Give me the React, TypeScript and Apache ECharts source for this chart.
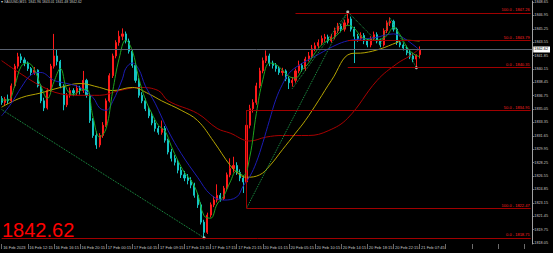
import React, { useEffect, useRef } from 'react';
import * as echarts from 'echarts';

const symbolName = 'XAUUSD,M15';
const timeLabels = ['16 Feb 2023', '16 Feb 12:15', '16 Feb 16:15', '16 Feb 20:15', '17 Feb 00:15', '17 Feb 04:15', '17 Feb 09:15', '17 Feb 13:15', '17 Feb 17:15', '17 Feb 21:15', '20 Feb 01:15', '20 Feb 05:15', '20 Feb 10:15', '20 Feb 14:15', '20 Feb 18:15', '20 Feb 22:15', '21 Feb 07:45'];
const priceTicks = [1818.05, 1819.75, 1821.45, 1823.15, 1824.85, 1826.55, 1828.25, 1829.95, 1831.65, 1833.35, 1835.05, 1836.75, 1838.45, 1840.15, 1841.85, 1843.55, 1845.25, 1846.95, 1848.65];
const lastPrice = 1842.62;
const yMin = 1817.923;
const yMax = 1848.776;
const slotCount = 163;

// [open, close, low, high]
const candles: number[][] = [
  [1836.4, 1835.9, 1835.6, 1836.7], [1835.9, 1836.3, 1835.5, 1836.6], [1836.3, 1836.1, 1835.7, 1836.9], [1836.1, 1838.0, 1835.9, 1838.3],
  [1838.0, 1840.5, 1837.8, 1840.8], [1840.5, 1841.7, 1840.2, 1842.2], [1841.7, 1841.3, 1840.9, 1842.1], [1841.3, 1840.9, 1840.5, 1841.6],
  [1840.9, 1840.2, 1839.9, 1841.1], [1840.2, 1839.7, 1839.3, 1840.4], [1839.7, 1840.0, 1839.4, 1840.4], [1840.0, 1838.0, 1837.8, 1840.1],
  [1838.0, 1836.1, 1835.8, 1838.2], [1836.1, 1835.2, 1834.8, 1836.5], [1835.2, 1837.4, 1835.0, 1837.7], [1837.4, 1840.5, 1837.2, 1840.8],
  [1840.5, 1841.8, 1840.2, 1844.6], [1841.8, 1841.1, 1840.6, 1842.6], [1841.1, 1838.0, 1837.7, 1841.3], [1838.0, 1835.6, 1834.9, 1838.2],
  [1835.6, 1836.8, 1835.3, 1837.1], [1836.8, 1837.4, 1836.5, 1837.8], [1837.4, 1837.1, 1836.7, 1837.7], [1837.1, 1837.7, 1836.8, 1838.1],
  [1837.7, 1837.4, 1836.9, 1838.0], [1837.4, 1838.7, 1837.1, 1839.9], [1838.7, 1836.8, 1836.5, 1838.9], [1836.8, 1833.6, 1833.3, 1837.0],
  [1833.6, 1831.7, 1831.4, 1833.9], [1831.7, 1830.5, 1830.0, 1832.2], [1830.5, 1831.7, 1830.2, 1832.0], [1831.7, 1833.0, 1831.4, 1833.4],
  [1833.0, 1836.1, 1832.8, 1836.4], [1836.1, 1839.3, 1835.9, 1839.6], [1839.3, 1841.8, 1839.0, 1842.1], [1841.8, 1843.5, 1841.5, 1843.8],
  [1843.5, 1844.3, 1843.1, 1845.0], [1844.3, 1844.6, 1843.8, 1845.3], [1844.6, 1843.7, 1843.4, 1844.9], [1843.7, 1842.4, 1842.1, 1844.0],
  [1842.4, 1840.6, 1840.3, 1842.6], [1840.6, 1838.7, 1838.4, 1840.9], [1838.7, 1836.8, 1836.5, 1839.0], [1836.8, 1836.1, 1835.8, 1837.2],
  [1836.1, 1835.1, 1834.8, 1836.4], [1835.1, 1834.2, 1833.9, 1835.4], [1834.2, 1833.3, 1833.0, 1834.6], [1833.3, 1832.6, 1832.2, 1833.7],
  [1832.6, 1832.1, 1831.8, 1832.9], [1832.1, 1832.6, 1831.8, 1833.6], [1832.6, 1831.1, 1830.8, 1832.9], [1831.1, 1829.6, 1829.3, 1831.3],
  [1829.6, 1828.8, 1828.4, 1830.0], [1828.8, 1828.3, 1827.9, 1829.2], [1828.3, 1827.3, 1826.9, 1828.6], [1827.3, 1826.7, 1826.3, 1827.7],
  [1826.7, 1826.3, 1825.9, 1827.2], [1826.3, 1826.0, 1825.5, 1826.8], [1826.0, 1825.4, 1825.0, 1826.4], [1825.4, 1824.1, 1823.8, 1825.7],
  [1824.1, 1822.9, 1822.5, 1824.4], [1822.9, 1820.7, 1820.4, 1823.2], [1820.7, 1819.4, 1818.71, 1821.0], [1819.4, 1821.6, 1819.2, 1821.9],
  [1821.6, 1822.9, 1821.3, 1823.2], [1822.9, 1823.5, 1822.6, 1824.0], [1823.5, 1824.1, 1823.2, 1825.5], [1824.1, 1823.7, 1823.3, 1824.4],
  [1823.7, 1825.0, 1823.5, 1825.3], [1825.0, 1826.7, 1824.8, 1827.0], [1826.7, 1827.5, 1826.4, 1828.8], [1827.5, 1827.9, 1827.0, 1829.0],
  [1827.9, 1827.0, 1826.7, 1828.3], [1827.0, 1826.3, 1825.9, 1827.4], [1826.3, 1825.8, 1824.4, 1826.6], [1825.8, 1833.0, 1825.6, 1834.9],
  [1833.0, 1835.1, 1832.6, 1835.6], [1835.1, 1835.9, 1834.6, 1836.3], [1835.9, 1838.0, 1835.6, 1838.4], [1838.0, 1839.9, 1837.7, 1840.3],
  [1839.9, 1841.2, 1839.6, 1841.6], [1841.2, 1841.8, 1840.9, 1842.5], [1841.8, 1840.9, 1840.5, 1842.1], [1840.9, 1840.6, 1840.2, 1841.2],
  [1840.6, 1840.2, 1839.8, 1840.9], [1840.2, 1839.7, 1839.4, 1840.5], [1839.7, 1839.9, 1839.3, 1840.3], [1839.9, 1838.9, 1838.6, 1840.1],
  [1838.9, 1838.4, 1837.6, 1839.2], [1838.4, 1838.7, 1837.9, 1839.1], [1838.7, 1839.9, 1838.4, 1840.2], [1839.9, 1840.6, 1839.6, 1841.2],
  [1840.6, 1840.2, 1839.8, 1840.9], [1840.2, 1841.4, 1839.9, 1841.7], [1841.4, 1841.8, 1841.1, 1842.3], [1841.8, 1842.7, 1841.5, 1843.2],
  [1842.7, 1843.1, 1842.4, 1843.5], [1843.1, 1843.5, 1842.8, 1843.9], [1843.5, 1844.0, 1843.2, 1844.4], [1844.0, 1844.2, 1843.6, 1844.6],
  [1844.2, 1843.7, 1843.4, 1844.5], [1843.7, 1844.2, 1843.5, 1844.6], [1844.2, 1845.0, 1843.9, 1845.4], [1845.0, 1845.6, 1844.7, 1846.0],
  [1845.6, 1845.2, 1844.8, 1845.9], [1845.2, 1846.0, 1844.9, 1846.4], [1846.0, 1846.5, 1845.7, 1847.39], [1846.5, 1845.2, 1844.9, 1846.8],
  [1845.2, 1844.3, 1840.9, 1845.5], [1844.3, 1844.0, 1843.6, 1844.6], [1844.0, 1844.4, 1843.7, 1844.8], [1844.4, 1843.7, 1843.3, 1844.7],
  [1843.7, 1843.2, 1842.9, 1844.0], [1843.2, 1844.0, 1842.9, 1844.3], [1844.0, 1844.5, 1843.7, 1844.9], [1844.5, 1843.7, 1843.4, 1844.8],
  [1843.7, 1843.2, 1842.9, 1844.0], [1843.2, 1845.0, 1843.0, 1845.3], [1845.0, 1846.0, 1844.7, 1846.3], [1846.0, 1846.2, 1845.6, 1846.7],
  [1846.2, 1845.2, 1844.9, 1846.4], [1845.2, 1843.5, 1843.2, 1845.4], [1843.5, 1843.2, 1842.9, 1843.8], [1843.2, 1842.8, 1842.5, 1843.5],
  [1842.8, 1842.2, 1841.9, 1843.1], [1842.2, 1841.8, 1841.4, 1842.6], [1841.8, 1841.4, 1841.0, 1842.2], [1841.4, 1841.9, 1840.31, 1842.0],
  [1841.96, 1842.62, 1841.48, 1843.01],
];

// moving averages: [bar, price]
const maFast = [[0, 1836.2], [2, 1836.2], [4, 1838.0], [6, 1840.5], [8, 1840.9], [10, 1840.1], [12, 1838.0], [14, 1836.4], [16, 1838.5], [18, 1840.2], [20, 1837.5], [22, 1836.9], [24, 1837.4], [26, 1837.6], [28, 1834.0], [30, 1831.5], [32, 1832.6], [34, 1837.3], [36, 1841.5], [38, 1843.8], [40, 1842.5], [42, 1839.0], [44, 1836.3], [46, 1834.5], [48, 1833.0], [50, 1832.3], [52, 1830.3], [54, 1828.5], [56, 1827.0], [58, 1826.0], [60, 1824.3], [62, 1821.5], [64, 1821.2], [66, 1823.0], [68, 1824.0], [70, 1825.8], [72, 1827.2], [74, 1826.6], [76, 1829.0], [78, 1834.5], [80, 1838.8], [82, 1840.9], [84, 1840.7], [86, 1840.0], [88, 1839.2], [90, 1839.0], [92, 1840.0], [94, 1840.9], [96, 1842.2], [98, 1843.2], [100, 1843.8], [102, 1844.2], [104, 1845.0], [106, 1845.7], [108, 1845.3], [110, 1844.3], [112, 1843.9], [114, 1843.8], [116, 1843.9], [118, 1844.4], [120, 1845.4], [122, 1844.5], [124, 1843.0], [126, 1842.1], [128, 1841.7]];
const maBlue = [[0, 1834.2], [3, 1835.8], [6, 1837.8], [9, 1839.4], [12, 1839.7], [16, 1838.7], [20, 1838.3], [24, 1837.8], [28, 1836.5], [30, 1835.2], [32, 1834.9], [34, 1836.0], [37, 1838.9], [38, 1840.2], [40, 1840.9], [42, 1840.1], [44, 1838.0], [47, 1835.8], [51, 1832.3], [55, 1829.4], [60, 1826.4], [64, 1824.2], [68, 1823.5], [72, 1823.9], [74, 1825.3], [76, 1826.5], [78, 1828.3], [80, 1830.8], [82, 1833.6], [84, 1836.3], [86, 1838.2], [88, 1839.6], [91, 1840.6], [97, 1842.0], [103, 1843.3], [107, 1843.8], [114, 1844.1], [120, 1844.6], [123, 1844.1], [127, 1842.9], [128, 1842.5]];
const maYellow = [[0, 1835.3], [6, 1836.5], [12, 1837.1], [18, 1837.8], [24, 1838.3], [30, 1837.8], [34, 1837.4], [40, 1837.8], [45, 1837.0], [49, 1836.1], [55, 1834.9], [60, 1833.6], [65, 1830.9], [70, 1827.9], [73, 1826.7], [75, 1826.4], [79, 1826.7], [82, 1827.8], [86, 1829.9], [90, 1832.0], [93, 1833.6], [97, 1836.1], [101, 1838.7], [107, 1842.1], [111, 1842.2], [116, 1842.7], [121, 1843.5], [123, 1843.8], [128, 1843.7]];
const maRed = [[0, 1841.2], [6, 1839.5], [12, 1838.0], [18, 1837.0], [24, 1836.8], [30, 1836.8], [36, 1837.4], [42, 1837.8], [48, 1837.4], [51, 1836.1], [60, 1834.5], [66, 1832.6], [70, 1832.0], [76, 1831.0], [81, 1831.5], [86, 1831.7], [94, 1831.7], [100, 1832.3], [106, 1833.9], [115, 1838.7], [121, 1840.8], [125, 1841.8], [128, 1842.7]];

// zigzag and swing points
const zigzagA = [[0, 1835.0], [62, 1818.71]];
const zigzagB = [[75, 1822.47], [106, 1847.39]];
const zigzagC = [[89, 1837.65], [106, 1847.39], [116, 1843.2], [119, 1846.6], [127, 1840.31]];
const swingPoints = [[62, 1818.71], [106, 1847.39], [127, 1840.31]];

// fibonacci levels: level text, price, first bar
const fibLevels = [
  { level: '100.0', price: 1847.26, from: 90 },
  { level: '50.0', price: 1843.79, from: 106 },
  { level: '0.0', price: 1840.31, from: 106 },
  { level: '50.0', price: 1834.91, from: 75 },
  { level: '100.0', price: 1822.47, from: 75 },
  { level: '0.0', price: 1818.71, from: 0 },
];
const fibStem = [[75, 1822.47], [75, 1834.91]];

const FONT = 'Liberation Sans, Arial, sans-serif';

export default function App() {
  const ref = useRef<HTMLDivElement>(null);
  useEffect(() => {
    document.body.style.margin = '0';
    document.body.style.background = '#000';
    if (!ref.current) return;
    const chart = echarts.init(ref.current, undefined, { renderer: 'svg' });
    const cats = Array.from({ length: slotCount }, (_, i) => String(i));
    const last = candles[candles.length - 1];
    const headerText = `\u25BE ${symbolName}  ${last[0].toFixed(2)} ${last[3].toFixed(2)} ${last[2].toFixed(2)} ${last[1].toFixed(2)}`;

    const fibMarks: any[] = fibLevels.map((f) => [
      {
        coord: [f.from, f.price],
        lineStyle: { color: '#a00000', width: 1, type: 'solid' },
        label: {
          show: true,
          position: 'insideEndTop',
          distance: 1,
          formatter: `${f.level} - ${f.price.toFixed(2)}`,
          color: '#ff2020',
          fontSize: 4,
          fontFamily: FONT,
        },
      },
      { coord: [slotCount - 1, f.price] },
    ]);
    fibMarks.push([
      { coord: fibStem[0], lineStyle: { color: '#a00000', width: 1, type: 'solid' }, label: { show: false } },
      { coord: fibStem[1] },
    ]);
    fibMarks.push({
      yAxis: lastPrice,
      lineStyle: { color: '#5a6270', width: 1, type: 'solid', opacity: 1 },
      label: { show: false },
    });

    const maLine = (data: number[][], color: string) => ({
      type: 'line',
      data,
      smooth: 0.4,
      symbol: 'none',
      lineStyle: { color, width: 1 },
      silent: true,
      z: 3,
    });
    const dotted = (data: number[][]) => ({
      type: 'line',
      data,
      symbol: 'none',
      lineStyle: { color: '#1fa04a', width: 1, type: 'dotted' },
      silent: true,
      z: 3,
    });

    chart.setOption({
      animation: false,
      backgroundColor: '#000000',
      grid: { left: 0, right: 17, top: 0, bottom: 9, containLabel: false },
      xAxis: {
        type: 'category',
        data: cats,
        boundaryGap: true,
        axisLine: { show: false },
        axisTick: { show: true, alignWithLabel: true, interval: 7, length: 5, lineStyle: { color: '#9a9a9a', width: 0.7 } },
        axisLabel: {
          interval: 7,
          align: 'left',
          fontSize: 4,
          color: '#c8c8c8',
          margin: 1.5,
          padding: [0, 0, 0, 1.5],
          fontFamily: FONT,
          formatter: (_v: string, i: number) => (i % 8 === 0 && timeLabels[i / 8] ? timeLabels[i / 8] : ''),
        },
        splitLine: { show: false },
      },
      yAxis: [
        {
          type: 'value',
          position: 'right',
          min: yMin,
          max: yMax,
          axisLine: { show: true, lineStyle: { color: '#a0a0a0', width: 1 } },
          axisTick: { show: true, length: 2, customValues: priceTicks, lineStyle: { color: '#a0a0a0', width: 0.7 } },
          axisLabel: {
            customValues: priceTicks,
            fontSize: 3.8,
            color: '#c8c8c8',
            margin: 2,
            fontFamily: FONT,
            formatter: (v: number) => v.toFixed(2),
          },
          splitLine: { show: false },
        },
        {
          type: 'value',
          position: 'right',
          min: yMin,
          max: yMax,
          axisLine: { show: false },
          axisTick: { show: false },
          splitLine: { show: false },
          axisLabel: {
            customValues: [lastPrice],
            backgroundColor: '#ffffff',
            color: '#000000',
            fontSize: 3.8,
            margin: 1,
            padding: [1, 2, 1, 1],
            fontFamily: FONT,
            formatter: (v: number) => v.toFixed(2),
          },
        },
      ],
      series: [
        {
          type: 'candlestick',
          data: candles,
          barWidth: 1.6,
          itemStyle: {
            color: '#ff1a1a',
            color0: '#14c4c4',
            borderColor: '#ff1a1a',
            borderColor0: '#14c4c4',
            borderWidth: 1,
          },
          silent: true,
          markLine: {
            silent: true,
            symbol: ['none', 'none'],
            animation: false,
            data: fibMarks,
          },
          z: 2,
        },
        maLine(maRed, '#a80000'),
        maLine(maYellow, '#b5a400'),
        maLine(maBlue, '#1c1cb4'),
        maLine(maFast, '#1ea51e'),
        dotted(zigzagA),
        dotted(zigzagB),
        dotted(zigzagC),
        {
          type: 'scatter',
          data: swingPoints,
          symbolSize: 3,
          itemStyle: { color: '#d8d8d8' },
          silent: true,
          z: 4,
        },
      ],
      graphic: [
        {
          type: 'text',
          left: 1,
          top: 0,
          style: { text: headerText, fill: '#c8c8c8', fontSize: 3.5, fontFamily: FONT },
        },
        {
          type: 'text',
          x: 2,
          y: 230,
          style: {
            text: lastPrice.toFixed(2),
            fill: '#ff0000',
            fontSize: 20,
            fontFamily: FONT,
            verticalAlign: 'middle',
          },
        },
      ],
    });
    return () => chart.dispose();
  }, []);
  return <div ref={ref} style={{ width: 553, height: 253, background: '#000' }} />;
}
